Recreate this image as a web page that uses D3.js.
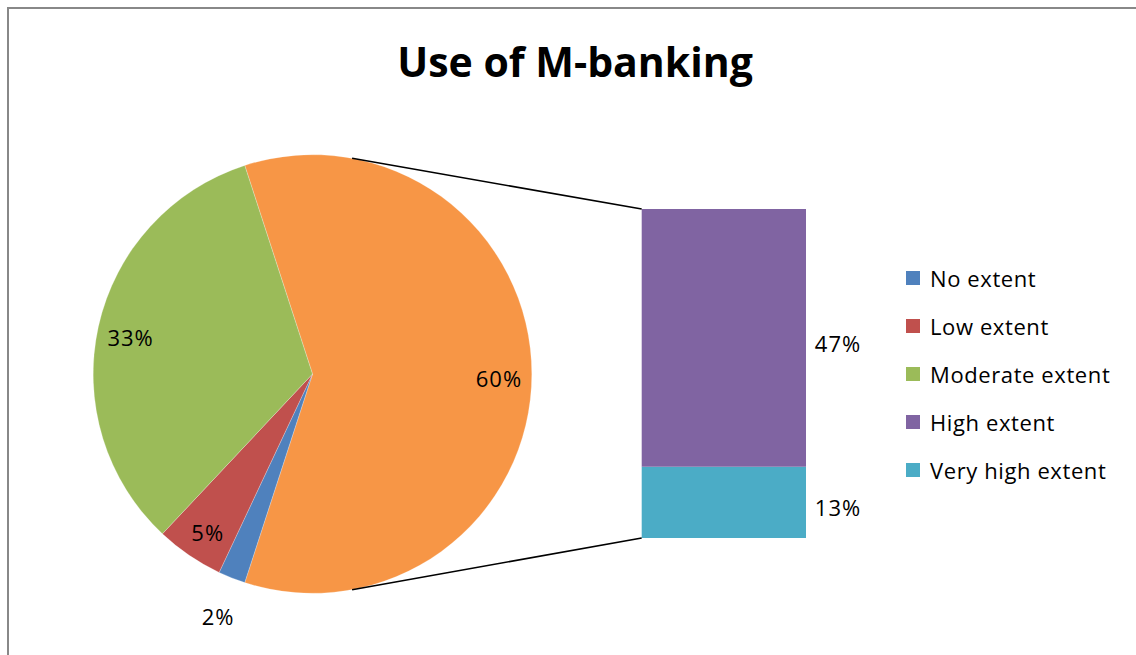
<!DOCTYPE html>
<html>
<head>
<meta charset="utf-8">
<script src="https://cdn.jsdelivr.net/npm/d3@7"></script>
<style>
  html, body { margin: 0; padding: 0; background: #fff; }
  svg { display: block; }
  text { font-family: "Open Sans", "Noto Sans", sans-serif; fill: #000; }
</style>
</head>
<body>
<svg id="chart" width="1136" height="655"></svg>
<script>
// Survey responses: extent of mobile banking use (percent)
const categories = ["No extent", "Low extent", "Moderate extent", "High extent", "Very high extent"];
const values = [2, 5, 33, 47, 13];
const colors = ["#4F81BD", "#C0504D", "#9BBB59", "#8064A2", "#4BACC6"];
const otherColor = "#F79646";
// Last two categories are split out into the stacked bar
const barCount = 2;
const titleText = "Use of M-banking";

const W = 1136, H = 655;
const svg = d3.select("#chart");

svg.append("rect").attr("width", W).attr("height", H).attr("fill", "#fff");
// chart frame (right and bottom edges run off the page)
svg.append("rect")
  .attr("x", 8).attr("y", 8).attr("width", W + 100).attr("height", H + 100)
  .attr("fill", "none").attr("stroke", "#888").attr("stroke-width", 2);

svg.append("text")
  .attr("x", 575).attr("y", 77)
  .attr("text-anchor", "middle")
  .style("font-size", "41px").style("font-weight", "bold")
  .text(titleText);

// ---- pie ----
const cx = 312.5, cy = 374, R = 219.3;
const pieCats = categories.slice(0, categories.length - barCount);
const pieVals = values.slice(0, values.length - barCount);
const barCats = categories.slice(categories.length - barCount);
const barVals = values.slice(values.length - barCount);
const otherVal = d3.sum(barVals);
const total = d3.sum(values);

const pieData = [{ name: "Other", value: otherVal, color: otherColor }]
  .concat(pieCats.map((c, i) => ({ name: c, value: pieVals[i], color: colors[i] })));

const otherSpan = 2 * Math.PI * otherVal / total;
const start = Math.PI / 2 - otherSpan / 2;
const pie = d3.pie().sort(null).value(d => d.value)
  .startAngle(start).endAngle(start + 2 * Math.PI);
const arcs = pie(pieData);
const arc = d3.arc().innerRadius(0).outerRadius(R);

const gPie = svg.append("g").attr("transform", `translate(${cx},${cy})`);
gPie.selectAll("path").data(arcs).join("path")
  .attr("d", arc)
  .attr("fill", d => d.data.color)
  .attr("stroke", "#fff").attr("stroke-width", 0.4).attr("stroke-opacity", 0.6);

const labelOffsetY = 5;
gPie.selectAll("text.lbl").data(arcs).join("text")
  .attr("class", "lbl")
  .each(function (d) {
    const a = (d.startAngle + d.endAngle) / 2;
    const share = d.data.value / total;
    const rr = share < 0.03 ? R * 1.17 : R * 0.85;
    d3.select(this)
      .attr("x", Math.sin(a) * rr)
      .attr("y", -Math.cos(a) * rr + labelOffsetY);
  })
  .attr("text-anchor", "middle").attr("dy", "0.35em")
  .style("font-size", "22px").style("letter-spacing", "1px")
  .text(d => Math.round(d.data.value / total * 100) + "%");

// ---- stacked bar ----
const bx0 = 641.7, bx1 = 806;
const y = d3.scaleLinear().domain([0, otherVal]).range([538, 209]);
// bar stacks bottom-up: last category at the bottom
const barStack = [];
let acc = 0;
barCats.map((c, i) => ({ name: c, value: barVals[i],
    color: colors[categories.length - barCount + i] }))
  .reverse()
  .forEach(d => { barStack.push({ ...d, y0: acc, y1: acc + d.value }); acc += d.value; });

svg.append("g").selectAll("rect").data(barStack).join("rect")
  .attr("x", bx0).attr("width", bx1 - bx0)
  .attr("y", d => y(d.y1)).attr("height", d => y(d.y0) - y(d.y1))
  .attr("fill", d => d.color);

svg.append("g").selectAll("text").data(barStack).join("text")
  .attr("x", bx1 + 32)
  .attr("y", d => (y(d.y0) + y(d.y1)) / 2 + labelOffsetY + 1)
  .attr("dy", "0.35em").attr("text-anchor", "middle")
  .style("font-size", "22px").style("letter-spacing", "1px")
  .text(d => Math.round(d.value / total * 100) + "%");

// ---- connector lines ----
const connAngle = 10.4 * Math.PI / 180;
const conn = [
  { a: connAngle, bx: bx0, by: y(otherVal) },
  { a: Math.PI - connAngle, bx: bx0, by: y(0) }
];
svg.append("g").selectAll("line").data(conn).join("line")
  .attr("x1", d => cx + Math.sin(d.a) * R)
  .attr("y1", d => cy - Math.cos(d.a) * R)
  .attr("x2", d => d.bx).attr("y2", d => d.by)
  .attr("stroke", "#000").attr("stroke-width", 1.6);

// ---- legend ----
const ly = d3.scalePoint().domain(categories).range([278, 470]);
const lg = svg.append("g").selectAll("g").data(categories).join("g")
  .attr("transform", c => `translate(906,${ly(c)})`);
lg.append("rect").attr("x", 0).attr("y", -7).attr("width", 14).attr("height", 14)
  .attr("fill", (c, i) => colors[i]);
lg.append("text").attr("x", 24).attr("y", 1).attr("dy", "0.35em")
  .style("font-size", "22px").style("letter-spacing", "0.6px")
  .text(c => c);
</script>
</body>
</html>
